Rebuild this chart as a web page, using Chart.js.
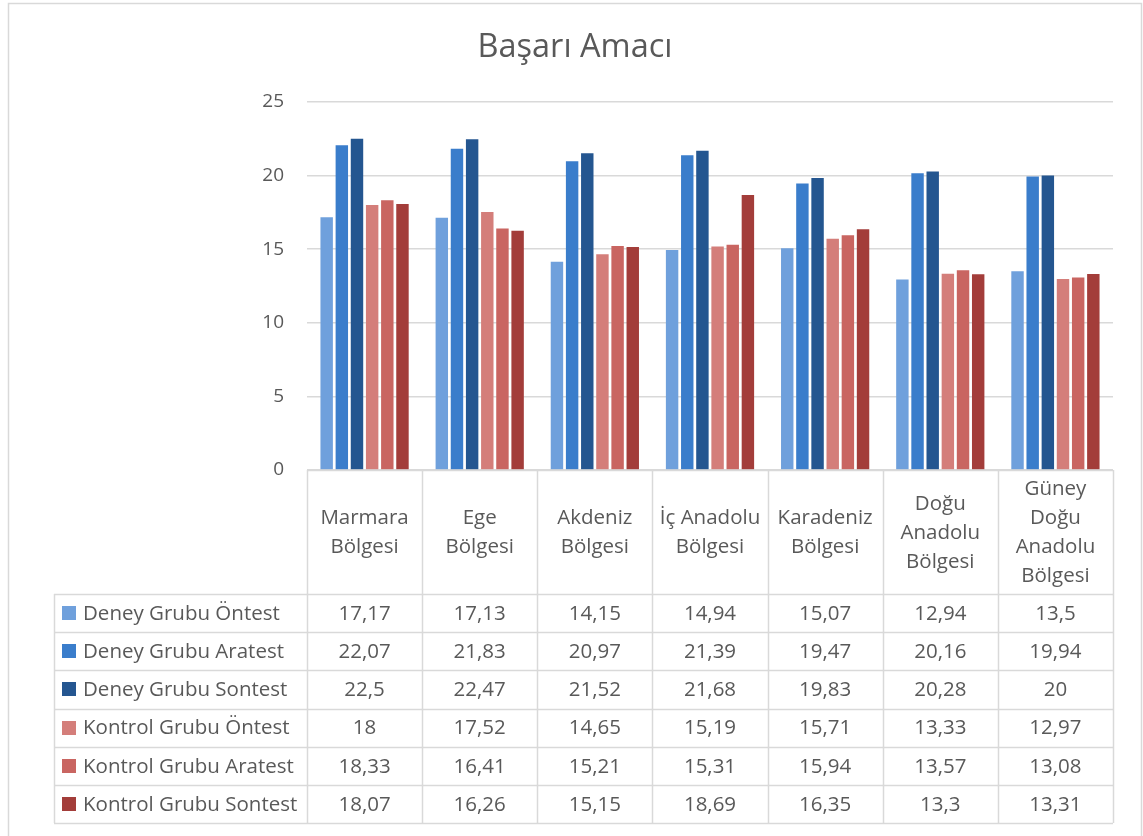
<!DOCTYPE html>
<html>
<head>
<meta charset="utf-8">
<script src="https://cdn.jsdelivr.net/npm/chart.js@4/dist/chart.umd.min.js"></script>
<style>
html,body{margin:0;padding:0;background:#fff;}
canvas{display:block;}
</style>
</head>
<body>
<canvas id="c" width="1143" height="836"></canvas>
<script>
const categories = [
  ["Marmara","Bölgesi"],
  ["Ege","Bölgesi"],
  ["Akdeniz","Bölgesi"],
  ["İç Anadolu","Bölgesi"],
  ["Karadeniz","Bölgesi"],
  ["Doğu","Anadolu","Bölgesi"],
  ["Güney","Doğu","Anadolu","Bölgesi"]
];
const seriesNames = [
  "Deney Grubu Öntest","Deney Grubu Aratest","Deney Grubu Sontest",
  "Kontrol Grubu Öntest","Kontrol Grubu Aratest","Kontrol Grubu Sontest"
];
const deneyOntest   = [17.17, 17.13, 14.15, 14.94, 15.07, 12.94, 13.5];
const deneyAratest  = [22.07, 21.83, 20.97, 21.39, 19.47, 20.16, 19.94];
const deneySontest  = [22.5, 22.47, 21.52, 21.68, 19.83, 20.28, 20];
const kontrolOntest = [18, 17.52, 14.65, 15.19, 15.71, 13.33, 12.97];
const kontrolAratest= [18.33, 16.41, 15.21, 15.31, 15.94, 13.57, 13.08];
const kontrolSontest= [18.07, 16.26, 15.15, 18.69, 16.35, 13.3, 13.31];
const yTicks = [0, 5, 10, 15, 20, 25];
const title = "Başarı Amacı";

const seriesData = [deneyOntest, deneyAratest, deneySontest, kontrolOntest, kontrolAratest, kontrolSontest];
const colors = ["#6FA0DC","#3A7DCB","#245690","#D47E7A","#C96561","#A33D3A"];
const FONT = "'Open Sans', Lato, sans-serif";
const TXT = "#595959";
const LINE = "#D9D9D9";

const tablePlugin = {
  id: 'tablePlugin',
  beforeDraw(chart) {
    const ctx = chart.ctx;
    ctx.save();
    ctx.fillStyle = '#fff';
    ctx.fillRect(0, 0, chart.width, chart.height);
    ctx.strokeStyle = LINE;
    ctx.lineWidth = 1.5;
    ctx.strokeRect(8.5, 3.5, chart.width - 10, chart.height + 10);
    ctx.restore();
  },
  afterDraw(chart) {
    const ctx = chart.ctx;
    const ca = chart.chartArea;
    const n = categories.length;
    const colW = (ca.right - ca.left) / n;
    const headerBottom = 594;
    const tableBottom = 823;
    const legendLeft = 54;
    const rowH = (tableBottom - headerBottom) / seriesNames.length;
    ctx.save();
    ctx.fillStyle = TXT;
    ctx.font = "32.5px " + FONT;
    ctx.textAlign = 'center';
    ctx.textBaseline = 'middle';
    ctx.fillText(title, 575, 48);

    ctx.strokeStyle = LINE;
    ctx.lineWidth = 1.5;
    ctx.beginPath();
    for (let i = 0; i <= n; i++) {
      const x = Math.round(ca.left + i * colW) + 0.5;
      ctx.moveTo(x, ca.bottom);
      ctx.lineTo(x, tableBottom);
    }
    ctx.moveTo(ca.left, ca.bottom + 0.5);
    ctx.lineTo(ca.right, ca.bottom + 0.5);
    for (let r = 0; r <= seriesNames.length; r++) {
      const y = Math.round(headerBottom + r * rowH) + 0.5;
      ctx.moveTo(legendLeft, y);
      ctx.lineTo(ca.right, y);
    }
    ctx.moveTo(legendLeft + 0.5, headerBottom);
    ctx.lineTo(legendLeft + 0.5, tableBottom);
    ctx.stroke();

    ctx.fillStyle = TXT;
    ctx.font = "20.5px " + FONT;
    ctx.textAlign = 'center';
    ctx.textBaseline = 'middle';
    const lh = 29;
    const hc = (ca.bottom + headerBottom) / 2;
    categories.forEach((lines, i) => {
      const cx = ca.left + (i + 0.5) * colW;
      const y0 = hc - (lines.length - 1) * lh / 2;
      lines.forEach((t, k) => ctx.fillText(t, cx, y0 + k * lh + 1));
    });

    seriesNames.forEach((name, r) => {
      const cy = headerBottom + (r + 0.5) * rowH;
      ctx.fillStyle = colors[r];
      ctx.fillRect(62, Math.round(cy - 7), 14, 14);
      ctx.fillStyle = TXT;
      ctx.textAlign = 'left';
      ctx.fillText(name, 83, cy + 1);
      ctx.textAlign = 'center';
      seriesData[r].forEach((v, i) => {
        const cx = ca.left + (i + 0.5) * colW;
        ctx.fillText(String(v).replace('.', ','), cx, cy + 1);
      });
    });
    ctx.restore();
  }
};

new Chart(document.getElementById('c'), {
  type: 'bar',
  data: {
    labels: categories.map(c => c.join(' ')),
    datasets: seriesNames.map((name, i) => ({
      label: name,
      data: seriesData[i],
      backgroundColor: colors[i],
      borderWidth: 0,
      barPercentage: 0.82,
      categoryPercentage: 0.79
    }))
  },
  options: {
    responsive: false,
    animation: false,
    devicePixelRatio: 1,
    layout: { padding: { left: 0, right: 30, top: 102, bottom: 366 } },
    plugins: { legend: { display: false }, title: { display: false }, tooltip: { enabled: false } },
    scales: {
      x: { display: false },
      y: {
        min: 0, max: 25,
        afterFit(scale) { scale.width = 307; },
        afterBuildTicks(scale) { scale.ticks = yTicks.map(v => ({ value: v })); },
        grid: { color: LINE, lineWidth: 1.5, drawTicks: false },
        border: { display: false },
        ticks: { color: TXT, font: { family: FONT, size: 19 }, padding: 23 }
      }
    }
  },
  plugins: [tablePlugin]
});
</script>
</body>
</html>
